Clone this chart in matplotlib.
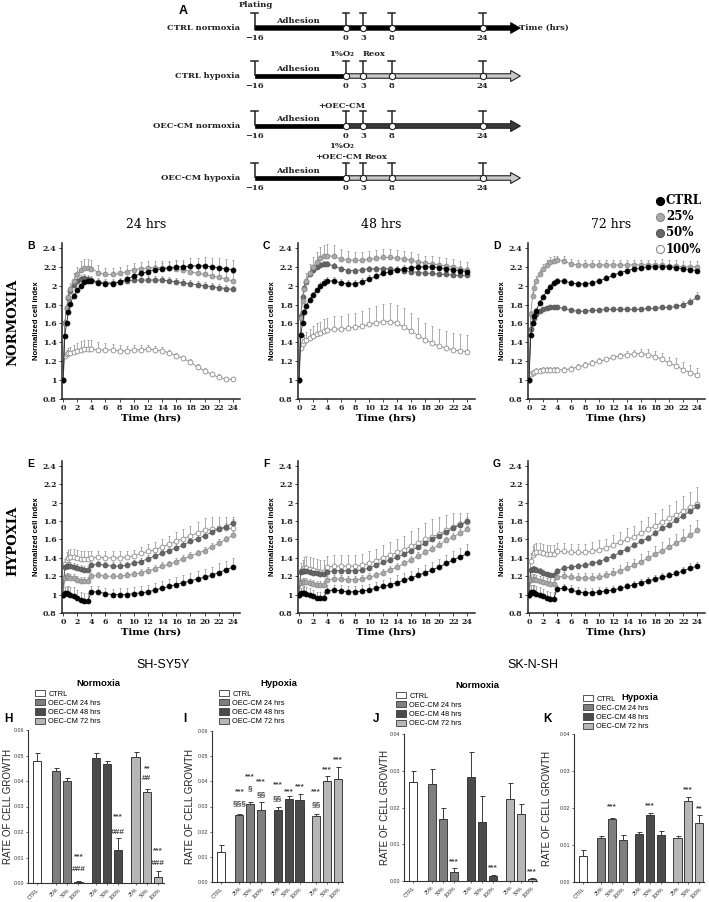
import numpy as np
import matplotlib
matplotlib.use('Agg')
import matplotlib.pyplot as plt
from matplotlib.patches import FancyArrow, Rectangle, Patch
from matplotlib.lines import Line2D

# ---------------- DATA ----------------
HOURS = [0, 0.25, 0.5, 0.75, 1, 1.5, 2, 2.5, 3, 3.5, 4, 5, 6, 7, 8, 9, 10, 11, 12, 13,
         14, 15, 16, 17, 18, 19, 20, 21, 22, 23, 24]
SERIES_NAMES = ['CTRL', '25%', '50%', '100%']

# Normoxia 24 hrs (B)
B_CTRL = [1.0, 1.47, 1.60, 1.72, 1.81, 1.89, 1.95, 2.00, 2.04, 2.05, 2.05, 2.03, 2.02, 2.02, 2.04, 2.07, 2.10, 2.13, 2.15, 2.17, 2.18, 2.19, 2.20, 2.20, 2.21, 2.21, 2.21, 2.20, 2.19, 2.18, 2.17]
B_25 = [1.0, 1.60, 1.76, 1.88, 1.96, 2.05, 2.12, 2.17, 2.19, 2.19, 2.18, 2.14, 2.12, 2.12, 2.13, 2.15, 2.17, 2.18, 2.19, 2.19, 2.19, 2.19, 2.18, 2.17, 2.15, 2.13, 2.12, 2.10, 2.09, 2.07, 2.05]
B_50 = [1.0, 1.60, 1.76, 1.87, 1.94, 2.01, 2.05, 2.07, 2.08, 2.07, 2.06, 2.04, 2.03, 2.03, 2.04, 2.05, 2.06, 2.06, 2.06, 2.06, 2.06, 2.05, 2.04, 2.03, 2.02, 2.01, 2.00, 1.99, 1.98, 1.97, 1.96]
B_100 = [1.0, 1.26, 1.28, 1.29, 1.29, 1.30, 1.31, 1.32, 1.33, 1.33, 1.33, 1.32, 1.32, 1.32, 1.31, 1.31, 1.32, 1.32, 1.33, 1.32, 1.31, 1.29, 1.26, 1.23, 1.19, 1.14, 1.10, 1.06, 1.03, 1.01, 1.01]
B_CTRL_ERR = [0, .02, .02, .03, .03, .03, .03, .03, .03, .03, .03, .03, .03, .03, .03, .03, .04, .04, .05, .05, .06, .06, .07, .07, .08, .08, .09, .09, .10, .10, .10]
B_25_ERR = [0, .04, .05, .06, .07, .08, .08, .09, .09, .09, .09, .08, .07, .07, .07, .07, .07, .07, .07, .07, .07, .07, .08, .08, .08, .08, .08, .08, .08, .08, .08]
B_50_ERR = [0, .03, .03, .04, .04, .04, .04, .04, .04, .04, .04, .04, .04, .04, .04, .04, .04, .04, .04, .04, .04, .04, .04, .04, .04, .04, .04, .04, .04, .04, .04]
B_100_ERR = [0, .03, .04, .05, .06, .07, .08, .09, .09, .09, .09, .08, .07, .06, .06, .05, .05, .05, .04, .04, .04, .03, .03, .03, .03, .03, .03, .03, .03, .02, .02]

# Normoxia 48 hrs (C)
C_CTRL = [1.0, 1.48, 1.60, 1.72, 1.78, 1.85, 1.90, 1.95, 2.00, 2.03, 2.05, 2.05, 2.03, 2.02, 2.02, 2.04, 2.07, 2.10, 2.13, 2.15, 2.17, 2.18, 2.19, 2.20, 2.20, 2.20, 2.19, 2.18, 2.17, 2.16, 2.15]
C_25 = [1.0, 1.66, 1.84, 1.96, 2.05, 2.14, 2.20, 2.25, 2.29, 2.31, 2.32, 2.31, 2.28, 2.27, 2.27, 2.27, 2.28, 2.29, 2.30, 2.30, 2.29, 2.28, 2.27, 2.25, 2.24, 2.23, 2.22, 2.21, 2.20, 2.18, 2.17]
C_50 = [1.0, 1.68, 1.88, 1.98, 2.04, 2.12, 2.17, 2.20, 2.22, 2.23, 2.23, 2.21, 2.18, 2.16, 2.16, 2.17, 2.18, 2.18, 2.18, 2.18, 2.17, 2.16, 2.15, 2.14, 2.13, 2.13, 2.12, 2.12, 2.11, 2.11, 2.11]
C_100 = [1.0, 1.34, 1.38, 1.41, 1.43, 1.45, 1.47, 1.49, 1.50, 1.52, 1.53, 1.54, 1.54, 1.55, 1.56, 1.57, 1.59, 1.61, 1.62, 1.62, 1.60, 1.56, 1.52, 1.47, 1.43, 1.39, 1.36, 1.34, 1.32, 1.31, 1.30]
C_CTRL_ERR = [0, .03, .03, .03, .03, .03, .03, .03, .04, .04, .04, .04, .04, .04, .04, .04, .04, .04, .04, .04, .04, .04, .05, .05, .05, .05, .05, .05, .05, .05, .05]
C_25_ERR = [0, .05, .06, .07, .08, .09, .10, .11, .12, .12, .12, .12, .11, .10, .09, .09, .09, .09, .09, .09, .09, .09, .09, .09, .08, .08, .08, .08, .08, .08, .08]
C_50_ERR = [0, .03, .03, .03, .03, .03, .03, .03, .03, .03, .03, .03, .03, .03, .03, .03, .03, .03, .03, .03, .03, .03, .03, .03, .03, .03, .03, .03, .03, .03, .03]
C_100_ERR = [0, .05, .06, .07, .08, .09, .10, .11, .12, .13, .13, .14, .14, .15, .15, .16, .17, .18, .19, .20, .20, .20, .19, .19, .18, .18, .18, .18, .18, .18, .18]

# Normoxia 72 hrs (D)
D_CTRL = [1.0, 1.48, 1.60, 1.68, 1.73, 1.82, 1.88, 1.94, 1.99, 2.03, 2.05, 2.05, 2.03, 2.02, 2.02, 2.03, 2.05, 2.08, 2.11, 2.14, 2.16, 2.18, 2.19, 2.20, 2.20, 2.20, 2.20, 2.19, 2.18, 2.17, 2.16]
D_25 = [1.0, 1.70, 1.89, 1.98, 2.05, 2.12, 2.18, 2.22, 2.25, 2.26, 2.27, 2.26, 2.23, 2.22, 2.22, 2.22, 2.22, 2.22, 2.22, 2.22, 2.22, 2.22, 2.22, 2.22, 2.22, 2.22, 2.21, 2.21, 2.20, 2.20, 2.20]
D_50 = [1.0, 1.54, 1.60, 1.66, 1.70, 1.73, 1.75, 1.76, 1.77, 1.77, 1.77, 1.76, 1.74, 1.73, 1.73, 1.74, 1.74, 1.75, 1.75, 1.75, 1.75, 1.75, 1.75, 1.76, 1.76, 1.77, 1.77, 1.78, 1.80, 1.83, 1.88]
D_100 = [1.0, 1.07, 1.08, 1.09, 1.10, 1.10, 1.11, 1.11, 1.11, 1.11, 1.11, 1.11, 1.12, 1.14, 1.16, 1.18, 1.20, 1.22, 1.24, 1.26, 1.27, 1.28, 1.28, 1.27, 1.25, 1.22, 1.18, 1.15, 1.11, 1.08, 1.05]
D_CTRL_ERR = [0, .02, .02, .03, .03, .03, .03, .03, .03, .03, .03, .03, .03, .03, .03, .03, .03, .03, .03, .03, .03, .03, .03, .03, .03, .03, .03, .03, .03, .03, .03]
D_25_ERR = [0, .03, .04, .04, .05, .05, .05, .05, .05, .05, .05, .05, .05, .05, .05, .05, .05, .05, .05, .05, .05, .05, .05, .05, .05, .06, .06, .06, .06, .06, .06]
D_50_ERR = [0, .02, .02, .02, .02, .02, .02, .02, .02, .02, .02, .02, .02, .02, .02, .02, .02, .02, .02, .02, .02, .02, .02, .02, .02, .03, .03, .03, .04, .04, .05]
D_100_ERR = [0, .02, .02, .02, .03, .03, .03, .03, .03, .03, .03, .03, .03, .03, .03, .03, .03, .03, .03, .03, .04, .04, .05, .06, .06, .07, .07, .08, .08, .08, .08]

# Hypoxia 24 hrs (E)
E_CTRL = [1.0, 1.02, 1.02, 1.01, 1.00, 0.99, 0.96, 0.94, 0.93, 0.93, 1.03, 1.03, 1.01, 1.00, 1.00, 1.00, 1.01, 1.02, 1.03, 1.05, 1.07, 1.09, 1.11, 1.13, 1.15, 1.17, 1.19, 1.21, 1.24, 1.27, 1.30]
E_25 = [1.0, 1.18, 1.19, 1.19, 1.18, 1.18, 1.16, 1.15, 1.15, 1.15, 1.20, 1.21, 1.20, 1.20, 1.20, 1.21, 1.22, 1.24, 1.26, 1.28, 1.31, 1.33, 1.36, 1.39, 1.42, 1.45, 1.48, 1.52, 1.56, 1.60, 1.65]
E_50 = [1.0, 1.30, 1.31, 1.31, 1.31, 1.30, 1.29, 1.28, 1.27, 1.27, 1.32, 1.33, 1.32, 1.31, 1.31, 1.32, 1.34, 1.36, 1.39, 1.42, 1.45, 1.48, 1.51, 1.54, 1.58, 1.61, 1.64, 1.68, 1.71, 1.74, 1.78]
E_100 = [1.0, 1.33, 1.38, 1.40, 1.41, 1.41, 1.40, 1.39, 1.39, 1.39, 1.40, 1.41, 1.40, 1.40, 1.40, 1.41, 1.42, 1.45, 1.47, 1.49, 1.52, 1.55, 1.58, 1.61, 1.64, 1.67, 1.70, 1.71, 1.72, 1.72, 1.72]
E_CTRL_ERR = [0, .06, .07, .08, .08, .09, .09, .09, .09, .09, .06, .06, .06, .06, .07, .07, .07, .07, .08, .08, .08, .08, .08, .08, .09, .09, .09, .09, .10, .10, .10]
E_25_ERR = [0, .04, .04, .04, .04, .04, .04, .04, .04, .04, .04, .04, .04, .04, .04, .04, .04, .04, .04, .04, .04, .04, .04, .04, .04, .04, .04, .04, .04, .04, .04]
E_50_ERR = [0, .04, .04, .04, .04, .04, .04, .04, .04, .04, .04, .04, .04, .04, .04, .04, .04, .04, .04, .04, .04, .04, .04, .04, .04, .04, .04, .04, .04, .04, .04]
E_100_ERR = [0, .06, .08, .09, .09, .09, .09, .09, .09, .09, .08, .07, .07, .07, .07, .07, .07, .07, .08, .08, .09, .09, .10, .10, .11, .12, .13, .13, .13, .12, .12]

# Hypoxia 48 hrs (F)
F_CTRL = [1.0, 1.02, 1.02, 1.02, 1.01, 1.00, 0.98, 0.96, 0.96, 0.96, 1.04, 1.05, 1.04, 1.03, 1.03, 1.04, 1.05, 1.07, 1.09, 1.11, 1.13, 1.16, 1.18, 1.21, 1.24, 1.27, 1.30, 1.34, 1.38, 1.41, 1.45]
F_25 = [1.0, 1.13, 1.14, 1.14, 1.14, 1.13, 1.12, 1.11, 1.11, 1.11, 1.16, 1.17, 1.17, 1.16, 1.16, 1.17, 1.19, 1.21, 1.24, 1.27, 1.30, 1.34, 1.38, 1.42, 1.46, 1.50, 1.54, 1.59, 1.63, 1.67, 1.71]
F_50 = [1.0, 1.25, 1.26, 1.26, 1.26, 1.25, 1.24, 1.23, 1.22, 1.22, 1.25, 1.26, 1.26, 1.26, 1.26, 1.27, 1.29, 1.32, 1.35, 1.38, 1.41, 1.44, 1.48, 1.52, 1.56, 1.60, 1.64, 1.68, 1.72, 1.76, 1.80]
F_100 = [1.0, 1.26, 1.28, 1.29, 1.29, 1.28, 1.27, 1.26, 1.25, 1.25, 1.30, 1.31, 1.31, 1.31, 1.31, 1.32, 1.34, 1.37, 1.40, 1.43, 1.46, 1.49, 1.53, 1.56, 1.60, 1.63, 1.66, 1.70, 1.74, 1.77, 1.79]
F_CTRL_ERR = [0, .05, .06, .07, .07, .07, .07, .07, .07, .07, .06, .06, .06, .06, .06, .06, .07, .07, .07, .07, .08, .08, .08, .08, .08, .09, .09, .09, .09, .10, .10]
F_25_ERR = [0, .04, .04, .04, .04, .04, .04, .04, .04, .04, .04, .04, .04, .04, .04, .04, .04, .04, .04, .04, .04, .04, .04, .04, .04, .04, .04, .04, .04, .04, .04]
F_50_ERR = [0, .04, .04, .04, .04, .04, .04, .04, .04, .04, .04, .04, .04, .04, .04, .04, .04, .04, .04, .04, .04, .04, .04, .04, .04, .04, .04, .04, .04, .04, .04]
F_100_ERR = [0, .08, .10, .12, .13, .13, .13, .13, .13, .13, .12, .12, .12, .12, .12, .12, .13, .13, .14, .14, .15, .15, .16, .17, .18, .19, .19, .17, .15, .12, .10]

# Hypoxia 72 hrs (G)
G_CTRL = [1.0, 1.03, 1.03, 1.02, 1.01, 1.00, 0.98, 0.96, 0.95, 0.95, 1.06, 1.07, 1.05, 1.03, 1.02, 1.02, 1.03, 1.04, 1.05, 1.07, 1.09, 1.11, 1.13, 1.15, 1.17, 1.19, 1.21, 1.23, 1.26, 1.29, 1.31]
G_25 = [1.0, 1.16, 1.17, 1.17, 1.16, 1.15, 1.14, 1.13, 1.12, 1.12, 1.19, 1.20, 1.19, 1.18, 1.18, 1.18, 1.19, 1.21, 1.23, 1.26, 1.29, 1.32, 1.36, 1.40, 1.44, 1.48, 1.52, 1.56, 1.60, 1.65, 1.70]
G_50 = [1.0, 1.27, 1.28, 1.28, 1.27, 1.26, 1.24, 1.22, 1.21, 1.21, 1.26, 1.29, 1.30, 1.31, 1.32, 1.34, 1.36, 1.39, 1.42, 1.46, 1.50, 1.54, 1.58, 1.62, 1.67, 1.72, 1.76, 1.81, 1.86, 1.91, 1.96]
G_100 = [1.0, 1.37, 1.43, 1.45, 1.46, 1.46, 1.45, 1.44, 1.44, 1.44, 1.47, 1.47, 1.46, 1.46, 1.46, 1.47, 1.49, 1.51, 1.54, 1.57, 1.60, 1.63, 1.67, 1.71, 1.75, 1.79, 1.83, 1.87, 1.91, 1.95, 1.99]
G_CTRL_ERR = [0, .07, .08, .08, .08, .08, .08, .08, .08, .08, .05, .05, .05, .05, .05, .05, .05, .04, .04, .04, .04, .04, .04, .04, .04, .04, .04, .04, .04, .05, .05]
G_25_ERR = [0, .05, .05, .05, .05, .05, .05, .05, .05, .05, .05, .05, .05, .05, .05, .05, .05, .05, .06, .06, .07, .07, .08, .08, .09, .09, .10, .10, .11, .11, .11]
G_50_ERR = [0, .03, .03, .03, .03, .03, .03, .03, .03, .03, .03, .03, .03, .03, .03, .03, .03, .03, .03, .03, .03, .03, .03, .03, .03, .03, .03, .03, .03, .03, .03]
G_100_ERR = [0, .08, .10, .10, .10, .10, .10, .10, .10, .10, .09, .09, .09, .09, .09, .10, .10, .10, .11, .11, .12, .12, .13, .13, .14, .14, .15, .15, .16, .17, .18]

# Bar charts: rate of cell growth
BAR_LABELS = ['CTRL', '25%', '50%', '100%', '25%', '50%', '100%', '25%', '50%', '100%']
LEGEND_LABELS = ['CTRL', 'OEC-CM 24 hrs', 'OEC-CM 48 hrs', 'OEC-CM 72 hrs']
H_MEANS = [0.048, 0.044, 0.040, 0.0003, 0.049, 0.0465, 0.013, 0.0495, 0.0355, 0.0023]
H_ERRS = [0.003, 0.001, 0.0013, 0.0005, 0.002, 0.0015, 0.0047, 0.002, 0.0015, 0.0023]
I_MEANS = [0.012, 0.0265, 0.031, 0.0287, 0.0288, 0.033, 0.0325, 0.0263, 0.040, 0.041]
I_ERRS = [0.0028, 0.0007, 0.0008, 0.003, 0.001, 0.001, 0.0025, 0.0008, 0.002, 0.0045]
J_MEANS = [0.027, 0.0265, 0.017, 0.0024, 0.0284, 0.016, 0.0013, 0.0222, 0.0182, 0.0005]
J_ERRS = [0.003, 0.004, 0.003, 0.0011, 0.0067, 0.0072, 0.0004, 0.0046, 0.0028, 0.0004]
K_MEANS = [0.007, 0.012, 0.017, 0.0113, 0.013, 0.018, 0.0128, 0.012, 0.022, 0.016]
K_ERRS = [0.0017, 0.0004, 0.0004, 0.0014, 0.0006, 0.0006, 0.001, 0.0004, 0.0011, 0.002]
H_MARKS = [(3, '***', 0.0103), (3, '###', 0.0052), (6, '***', 0.026), (6, '###', 0.020),
           (8, '**', 0.045), (8, '##', 0.041), (9, '***', 0.0125), (9, '###', 0.0075)]
I_MARKS = [(1, '***', 0.0358), (1, '§§§', 0.031), (2, '***', 0.042), (2, '§', 0.037),
           (3, '***', 0.0397), (3, '§§', 0.0346), (4, '***', 0.0386), (4, '§§', 0.033),
           (5, '***', 0.0358), (6, '***', 0.038), (7, '***', 0.0358), (7, '§§', 0.0306),
           (8, '***', 0.0445), (9, '***', 0.0485)]
J_MARKS = [(3, '***', 0.0052), (6, '***', 0.0035), (9, '***', 0.0025)]
K_MARKS = [(2, '***', 0.0203), (5, '***', 0.0205), (8, '***', 0.0249), (9, '**', 0.0197)]

# Schematic (panel A)
ROW_NAMES = ['CTRL normoxia', 'CTRL hypoxia', 'OEC-CM normoxia', 'OEC-CM hypoxia']
TIMELINE_TICKS = [-16, 0, 3, 8, 24]

# ---------------- FIGURE ----------------
W, H = 709, 902
fig = plt.figure(figsize=(W / 100, H / 100), dpi=100)
SERIF = 'DejaVu Serif'
SANS = 'Liberation Sans'

def fx(px):
    return px / W

def fy(py):
    return 1 - py / H

def add_ax(left, top, right, bottom):
    return fig.add_axes([fx(left), fy(bottom), (right - left) / W, (bottom - top) / H])

# ---- Panel A schematic ----
axA = fig.add_axes([0, 1 - 192 / H, 1, 192 / H])
axA.set_xlim(-60.7, 63.7)
axA.set_ylim(192, 0)
axA.axis('off')
ROW_Y = [28, 76, 126, 178]
AFTER_COL = ['black', '#c9c9c9', '#3a3a3a', '#c9c9c9']
tkw = dict(family=SERIF, weight='bold', fontsize=6, color='#222')
for i, (name, y) in enumerate(zip(ROW_NAMES, ROW_Y)):
    if i == 0:
        axA.add_patch(FancyArrow(-16, y, 46.6, 0, width=4.5, head_width=11, head_length=1.7,
                                 length_includes_head=True, fc='black', ec='black', lw=0.5))
    else:
        axA.add_patch(Rectangle((-16, y - 2.25), 16, 4.5, fc='black', ec='black', lw=0.5))
        axA.add_patch(FancyArrow(0, y, 30.6, 0, width=4.5, head_width=11, head_length=1.7,
                                 length_includes_head=True, fc=AFTER_COL[i], ec='#222', lw=0.8))
    for t in TIMELINE_TICKS:
        axA.plot([t, t], [y, y - 15], color='#222', lw=1.1, solid_capstyle='butt')
        axA.plot([t - 0.6, t + 0.6], [y - 15, y - 15], color='#222', lw=1.1)
        if t >= 0:
            axA.plot(t, y, 'o', ms=4.5, mfc='white', mec='#222', mew=0.8, zorder=5)
        lab = '\u2212' + str(abs(t)) if t < 0 else str(t)
        axA.text(t, y + 10, lab, ha='center', va='center', **tkw)
    axA.text(-18.6, y, name, ha='right', va='center', **tkw)
    axA.text(-8.4, y - 7, 'Adhesion', ha='center', va='center', **tkw)
axA.text(-15.8, 5, 'Plating', ha='center', va='center', **tkw)
axA.text(30.4, 28, 'Time (hrs)', ha='left', va='center', **tkw)
axA.text(-0.8, 54, '1%O\u2082', ha='center', va='center', **tkw)
axA.text(4.9, 54, 'Reox', ha='center', va='center', **tkw)
axA.text(-0.7, 106, '+OEC-CM', ha='center', va='center', **tkw)
axA.text(-0.8, 146, '1%O\u2082', ha='center', va='center', **tkw)
axA.text(2.9, 157, '+OEC-CM', ha='right', va='center', **tkw)
axA.text(3.2, 157, 'Reox', ha='left', va='center', **tkw)
axA.text(-28.6, 11, 'A', ha='center', va='center', family=SANS, weight='bold', fontsize=9)

# ---- Line panels ----
STYLES = {
    'CTRL': dict(mfc='black', mec='black', lc='#222222'),
    '25%': dict(mfc='#aaaaaa', mec='#8a8a8a', lc='#8a8a8a'),
    '50%': dict(mfc='#666666', mec='#555555', lc='#555555'),
    '100%': dict(mfc='white', mec='#8a8a8a', lc='#8a8a8a'),
}
LINE_PANELS = [
    ('B', '24 hrs', [B_CTRL, B_25, B_50, B_100], [B_CTRL_ERR, B_25_ERR, B_50_ERR, B_100_ERR], (61.6, 7.08), (399, 94.4)),
    ('C', '48 hrs', [C_CTRL, C_25, C_50, C_100], [C_CTRL_ERR, C_25_ERR, C_50_ERR, C_100_ERR], (297.6, 7.02), (399, 94.4)),
    ('D', '72 hrs', [D_CTRL, D_25, D_50, D_100], [D_CTRL_ERR, D_25_ERR, D_50_ERR, D_100_ERR], (527.6, 7.02), (399, 94.4)),
    ('E', None, [E_CTRL, E_25, E_50, E_100], [E_CTRL_ERR, E_25_ERR, E_50_ERR, E_100_ERR], (61.6, 7.08), (613, 91.9)),
    ('F', None, [F_CTRL, F_25, F_50, F_100], [F_CTRL_ERR, F_25_ERR, F_50_ERR, F_100_ERR], (297.6, 7.02), (613, 91.9)),
    ('G', None, [G_CTRL, G_25, G_50, G_100], [G_CTRL_ERR, G_25_ERR, G_50_ERR, G_100_ERR], (527.6, 7.02), (613, 91.9)),
]
XMIN, XMAX, YMIN, YMAX = -0.2, 25.0, 0.8, 2.45
for letter, title, vals, errs, (left, xs), (bottom, ys) in LINE_PANELS:
    right = left + (XMAX - XMIN) * xs
    top = bottom - (YMAX - YMIN) * ys
    ax = add_ax(left, top, right, bottom)
    order = [3, 2, 1, 0]
    for k in order:
        y = vals[k]
        e = errs[k]
        assert len(y) == len(HOURS) and len(e) == len(HOURS)
        ax.errorbar(HOURS, y, yerr=[np.zeros(len(e)), e], fmt='none', ecolor='#8c8c8c',
                    elinewidth=0.5, capsize=1.0, capthick=0.5, zorder=2)
    for k in order:
        st = STYLES[SERIES_NAMES[k]]
        ax.plot(HOURS, vals[k], '-', color=st['lc'], lw=0.6, marker='o', ms=3.5,
                mfc=st['mfc'], mec=st['mec'], mew=0.6, zorder=3 + (3 - k))
    ax.set_xlim(XMIN, XMAX)
    ax.set_ylim(YMIN, YMAX)
    for s in ['top', 'right']:
        ax.spines[s].set_visible(False)
    for s in ['left', 'bottom']:
        ax.spines[s].set_linewidth(1.1)
        ax.spines[s].set_color('#222')
    ax.set_xticks(np.arange(0, 25, 2))
    ax.set_yticks(np.arange(0.8, 2.41, 0.2))
    ax.set_yticklabels(['0.8', '1', '1.2', '1.4', '1.6', '1.8', '2', '2.2', '2.4'])
    ax.tick_params(axis='both', length=2, width=0.6, pad=1.5, labelsize=5.7, colors='#222')
    for lab in ax.get_xticklabels() + ax.get_yticklabels():
        lab.set_family(SERIF)
        lab.set_fontweight('bold')
    ax.set_xlabel('Time (hrs)', family=SERIF, weight='bold', fontsize=7.3, labelpad=1)
    ax.set_ylabel('Normalized cell index', family=SANS, weight='bold', fontsize=5.6, labelpad=2)
    fig.text(fx(left - 31), fy(top + 3), letter, family=SANS, weight='bold', fontsize=7.5,
             ha='center', va='center')
    if title:
        fig.text(fx((left + right) / 2 - 5), fy(225), title, family=SERIF, fontsize=9,
                 ha='center', va='center')

fig.text(fx(13), fy(322), 'NORMOXIA', rotation=90, family=SERIF, weight='bold', fontsize=9.5,
         ha='center', va='center')
fig.text(fx(13), fy(541), 'HYPOXIA', rotation=90, family=SERIF, weight='bold', fontsize=9.5,
         ha='center', va='center')

# legend top right
for j, name in enumerate(SERIES_NAMES):
    yy = [201, 217, 233, 249][j]
    st = STYLES[name]
    fig.add_artist(Line2D([fx(660)], [fy(yy)], marker='o', ms=5.8, mfc=st['mfc'], mec=st['mec'],
                          mew=0.8, transform=fig.transFigure, ls='none'))
    fig.text(fx(666), fy(yy), name, family=SERIF, weight='bold', fontsize=8.5, ha='left', va='center')

# ---- Bar panels ----
POS = [0, 1.7, 2.7, 3.7, 5.25, 6.25, 7.25, 8.8, 9.8, 10.8]
GROUP_COL = ['white', '#7f7f7f', '#4a4a4a', '#b6b6b6']
BAR_COL = [GROUP_COL[0]] + [GROUP_COL[1]] * 3 + [GROUP_COL[2]] * 3 + [GROUP_COL[3]] * 3
EDGE = '#3a3a3a'
BXMIN, BXMAX = -0.8, 11.3
BAR_PANELS = [
    ('H', 'Normoxia', H_MEANS, H_ERRS, H_MARKS, 0.06, (37, 11.2), (730, 883), (8, 719), (98, 683), (35, 690), 8),
    ('I', 'Hypoxia', I_MEANS, I_ERRS, I_MARKS, 0.06, (221, 10.83), (731, 882), (185, 719), (279, 683), (219, 690), 190),
    ('J', 'Normoxia', J_MEANS, J_ERRS, J_MARKS, 0.04, (413, 11.0), (734, 881), (376, 719), (477, 685), (396, 692), 385),
    ('K', 'Hypoxia', K_MEANS, K_ERRS, K_MARKS, 0.04, (583, 10.74), (734, 882), (548, 719), (640, 697), (583, 695), 547),
]
for letter, title, means, errs, marks, ymax, (x0, xs), (top, bottom), lpos, tpos, legpos, ylx in BAR_PANELS:
    left = x0 + BXMIN * xs
    right = x0 + BXMAX * xs
    ax = add_ax(left, top, right, bottom)
    ax.bar(POS, means, width=0.75, color=BAR_COL, edgecolor=EDGE, linewidth=0.7, zorder=2)
    ax.errorbar(POS, means, yerr=[np.zeros(len(errs)), errs], fmt='none', ecolor=EDGE,
                elinewidth=0.7, capsize=1.8, capthick=0.7, zorder=3)
    for idx, txt, yv in marks:
        ax.text(POS[idx], yv, txt, ha='center', va='center', family=SANS, weight='bold',
                fontsize=6, color='#444', zorder=4)
    ax.set_xlim(BXMIN, BXMAX)
    ax.set_ylim(0, ymax)
    step = 0.01
    ax.set_yticks(np.arange(0, ymax + 1e-9, step))
    ax.set_yticklabels(['%.2f' % v for v in np.arange(0, ymax + 1e-9, step)])
    ax.set_xticks(POS)
    ax.set_xticklabels(BAR_LABELS, rotation=45, ha='right', rotation_mode='anchor')
    for s in ['top', 'right']:
        ax.spines[s].set_visible(False)
    for s in ['left', 'bottom']:
        ax.spines[s].set_linewidth(0.8)
        ax.spines[s].set_color('#333')
    ax.tick_params(axis='both', length=1.5, width=0.5, pad=1.5, labelsize=3.8, colors='#333')
    for lab in ax.get_xticklabels() + ax.get_yticklabels():
        lab.set_family(SANS)
    fig.text(fx(lpos[0]), fy(lpos[1]), letter, family=SANS, weight='bold', fontsize=8.5,
             ha='center', va='center')
    fig.text(fx(tpos[0]), fy(tpos[1]), title, family=SANS, weight='bold', fontsize=6.8,
             ha='center', va='center')
    fig.text(fx(ylx), fy((top + bottom) / 2), 'RATE OF CELL GROWTH', rotation=90, family=SANS,
             fontsize=7, ha='center', va='center', color='#222')
    handles = [Patch(facecolor=c, edgecolor=EDGE, linewidth=0.6) for c in GROUP_COL]
    ax.legend(handles, LEGEND_LABELS, loc='upper left',
              bbox_to_anchor=(fx(legpos[0]), fy(legpos[1])), bbox_transform=fig.transFigure,
              frameon=False, prop=dict(family=SANS, size=5.3), handlelength=1.3,
              handleheight=0.9, labelspacing=0.22, borderaxespad=0, borderpad=0,
              handletextpad=0.5)

fig.text(fx(163), fy(665), 'SH-SY5Y', family=SANS, fontsize=9, ha='center', va='center')
fig.text(fx(533), fy(665), 'SK-N-SH', family=SANS, fontsize=9, ha='center', va='center')

fig.savefig('out.png', dpi=100)
